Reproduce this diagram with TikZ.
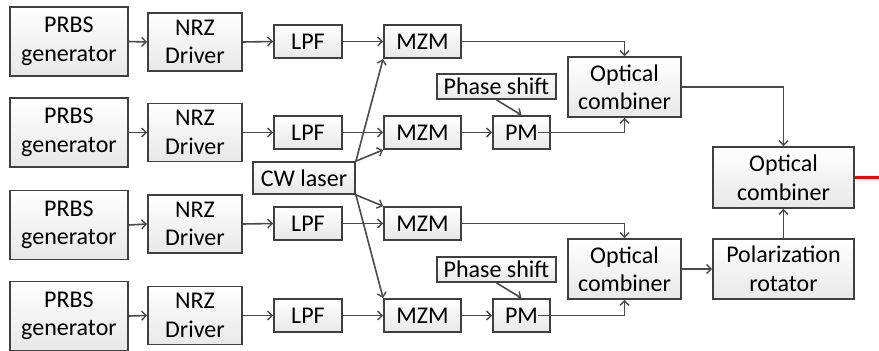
\documentclass[tikz,border=0pt]{standalone}
\usepackage{fontspec}
\setmainfont{Carlito}
\usetikzlibrary{arrows.meta,calc}
\definecolor{edgec}{HTML}{404040}
\definecolor{linec}{HTML}{4A4A4A}
\tikzset{
  blk/.style={draw=edgec, line width=1.8pt, top color=white, bottom color=black!9,
    inner sep=0pt, align=center, font=\fontsize{24}{28.5}\selectfont},
  conn/.style={draw=linec, line width=1.6pt, -{Straight Barb[length=4.5pt,width=9pt,line width=1.4pt]}},
}
\begin{document}
\begin{tikzpicture}[x=1pt,y=-1pt]
\useasboundingbox (0,0) rectangle (879,351);
% row nodes
\foreach \i/\yp/\yn/\yl in {1/41.5/42/41.5, 2/132.5/132.5/132.5, 3/225/224/223.5, 4/316/315.5/315.5}{
  \node[blk, minimum width=118pt, minimum height=69pt] (prbs\i) at (69,\yp) {PRBS\\generator};
  \node[blk, minimum width=94pt, minimum height=58pt] (nrz\i) at (195,\yn) {NRZ\\Driver};
  \node[blk, minimum width=68pt, minimum height=33pt] (lpf\i) at (308,\yl) {LPF};
  \node[blk, minimum width=77pt, minimum height=33pt] (mzm\i) at (422.5,\yl) {MZM};
}
\node[blk, minimum width=102pt, minimum height=32pt] (cw) at (304,178) {CW laser};
\node[blk, minimum width=119pt, minimum height=25pt] (ps1) at (496.5,86.5) {Phase shift};
\node[blk, minimum width=119pt, minimum height=25pt] (ps2) at (496.5,269.5) {Phase shift};
\node[blk, minimum width=57pt, minimum height=33pt] (pm1) at (521.5,132.5) {PM};
\node[blk, minimum width=57pt, minimum height=33pt] (pm2) at (521.5,315.5) {PM};
\node[blk, minimum width=113pt, minimum height=60pt] (oc1) at (624.5,87) {Optical\\combiner};
\node[blk, minimum width=113pt, minimum height=60pt] (oc2) at (624.5,269) {Optical\\combiner};
\node[blk, minimum width=141pt, minimum height=61pt] (foc) at (783.5,177.5) {Optical\\combiner};
\node[blk, minimum width=141pt, minimum height=60pt] (pr) at (783.5,269) {Polarization\\rotator};
\coordinate (out) at (879,177.5);
% connectors
\foreach \i in {1,2,3,4}{
  \draw[conn] (prbs\i.east) -- (nrz\i.west);
  \draw[conn] (nrz\i.east) -- (lpf\i.west);
  \draw[conn] (lpf\i.east) -- (mzm\i.west);
}
\draw[conn] (cw.north east) -- (mzm1.south west);
\draw[conn] (cw.north east) -- (mzm2.south west);
\draw[conn] (cw.south east) -- (mzm3.north west);
\draw[conn] (cw.south east) -- (mzm4.north west);
\draw[conn] (mzm2.east) -- (pm1.west);
\draw[conn] (mzm4.east) -- (pm2.west);
\draw[conn] (ps1.south) -- (pm1.north);
\draw[conn] (ps2.south) -- (pm2.north);
\draw[conn] (mzm1.east) -| (oc1.north);
\draw[conn] ([xshift=-13pt]pm1.east) -| (oc1.south);
\draw[conn] (mzm3.east) -| (oc2.north);
\draw[conn] ([xshift=-13pt]pm2.east) -| (oc2.south);
\draw[conn] (oc1.east) -| (foc.north);
\draw[conn] (oc2.east) -- (pr.west);
\draw[conn] (pr.north) -- (foc.south);
\draw[red, line width=2.5pt] (foc.east) -- (out);
\end{tikzpicture}
\end{document}
